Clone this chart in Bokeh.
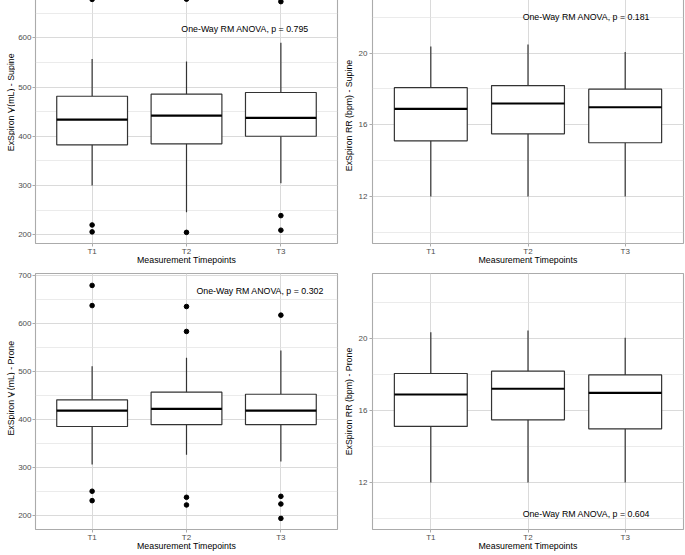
import numpy as np
from bokeh.plotting import figure
from bokeh.models import FixedTicker, Label, Range1d
from bokeh.layouts import column, row
from bokeh.embed import file_html
from bokeh.resources import INLINE

# ---------------- data ----------------
timepoints = ["T1", "T2", "T3"]

vt_supine_q1 = [382.7, 384.8, 400.2]
vt_supine_median = [434.0, 442.0, 437.6]
vt_supine_q3 = [481.4, 485.5, 489.0]
vt_supine_whisker_low = [300.1, 246.0, 304.8]
vt_supine_whisker_high = [557.0, 552.0, 590.0]
vt_supine_outlier_time = ["T1", "T1", "T1", "T2", "T2", "T3", "T3", "T3"]
vt_supine_outlier_value = [678.0, 220.0, 206.0, 678.5, 205.0, 673.5, 239.0, 209.4]

rr_supine_q1 = [15.11, 15.50, 15.00]
rr_supine_median = [16.89, 17.19, 16.98]
rr_supine_q3 = [18.07, 18.19, 17.99]
rr_supine_whisker_low = [12.0, 12.0, 12.0]
rr_supine_whisker_high = [20.37, 20.48, 20.06]
rr_supine_outlier_time = []
rr_supine_outlier_value = []

vt_prone_q1 = [385.7, 389.8, 389.8]
vt_prone_median = [419.0, 422.5, 419.0]
vt_prone_q3 = [441.3, 457.3, 453.0]
vt_prone_whisker_low = [306.4, 326.6, 312.7]
vt_prone_whisker_high = [511.5, 528.9, 544.2]
vt_prone_outlier_time = ["T1", "T1", "T1", "T1", "T2", "T2", "T2", "T2", "T3", "T3", "T3", "T3"]
vt_prone_outlier_value = [680.0, 638.0, 250.6, 231.0, 636.0, 584.0, 238.0, 222.0, 618.0, 240.0, 224.0, 194.0]

rr_prone_q1 = [15.12, 15.49, 14.99]
rr_prone_median = [16.90, 17.22, 16.99]
rr_prone_q3 = [18.07, 18.20, 17.99]
rr_prone_whisker_low = [12.0, 12.0, 12.0]
rr_prone_whisker_high = [20.37, 20.46, 20.06]
rr_prone_outlier_time = []
rr_prone_outlier_value = []

vt_supine_ticks = [200, 300, 400, 500, 600]
vt_prone_ticks = [200, 300, 400, 500, 600, 700]
rr_ticks = [12, 16, 20]

x_title = "Measurement Timepoints"
note_vt_supine = "One-Way RM ANOVA, p = 0.795"
note_rr_supine = "One-Way RM ANOVA, p = 0.181"
note_vt_prone = "One-Way RM ANOVA, p = 0.302"
note_rr_prone = "One-Way RM ANOVA, p = 0.604"

# ---------------- style ----------------
FONT = "Liberation Sans"
BORDER = "#ababab"
GRID = "#dadada"
MINOR = "#e3e3e3"
BOX_LINE = "#333333"

ARIAL_W = {"E": 667, "x": 500, "S": 667, "p": 556, "i": 222, "r": 333, "o": 556,
           "n": 556, " ": 278, "V": 667, "T": 611, "(": 333, "m": 833, "L": 556,
           ")": 333, "-": 333, "u": 556, "e": 556, "P": 667}


def text_w(s, size):
    return sum(ARIAL_W.get(c, 556) for c in s) / 1000.0 * size


FRAME_H = 256


def panel(q1, med, q3, lo, hi, out_t, out_v, yr, ticks, note, note_xy,
          width, bl, br, height, bt, bb, ylabel=None, y_standoff=2):
    xs = [i + 1 for i in range(len(timepoints))]
    half = 0.375
    p = figure(width=width, height=height, x_range=Range1d(0.4, 3.6),
               y_range=Range1d(*yr), output_backend="svg", toolbar_location=None,
               title=None, min_border_left=bl, min_border_right=br,
               min_border_top=bt, min_border_bottom=bb)
    p.background_fill_color = "white"
    p.border_fill_color = "white"
    p.outline_line_color = BORDER
    p.outline_line_width = 1.1

    # grid
    step = ticks[1] - ticks[0]
    minor = [t + step / 2 for t in [ticks[0] - step] + ticks]
    p.xgrid.ticker = FixedTicker(ticks=xs)
    p.xgrid.grid_line_color = GRID
    p.xgrid.grid_line_width = 1
    p.ygrid.ticker = FixedTicker(ticks=ticks, minor_ticks=minor)
    p.ygrid.grid_line_color = GRID
    p.ygrid.grid_line_width = 1
    p.ygrid.minor_grid_line_color = MINOR
    p.ygrid.minor_grid_line_width = 0.7

    # axes
    p.xaxis.ticker = FixedTicker(ticks=xs)
    p.xaxis.major_label_overrides = {x: t for x, t in zip(xs, timepoints)}
    p.yaxis.ticker = FixedTicker(ticks=ticks)
    for ax in (p.xaxis[0], p.yaxis[0]):
        ax.axis_line_color = None
        ax.major_tick_line_color = BORDER
        ax.major_tick_out = 3
        ax.major_tick_in = 0
        ax.minor_tick_out = 0
        ax.minor_tick_in = 0
        ax.major_label_text_font = FONT
        ax.major_label_text_font_size = "8px"
        ax.major_label_text_color = "#4d4d4d"
        ax.axis_label_text_font = FONT
        ax.axis_label_text_font_size = "8.8px"
        ax.axis_label_text_font_style = "normal"
        ax.axis_label_text_color = "black"
    p.xaxis.axis_label = x_title
    p.xaxis.major_label_standoff = 0
    p.xaxis.axis_label_standoff = -4
    p.yaxis.major_label_standoff = y_standoff
    p.yaxis.axis_label_standoff = 2
    if ylabel is not None:
        p.yaxis.axis_label = ylabel

    # whiskers
    p.segment(x0=xs, y0=q3, x1=xs, y1=hi, line_color=BOX_LINE, line_width=1.2)
    p.segment(x0=xs, y0=q1, x1=xs, y1=lo, line_color=BOX_LINE, line_width=1.2)
    # boxes
    p.vbar(x=xs, width=2 * half, bottom=q1, top=q3, fill_color="white",
           line_color=BOX_LINE, line_width=1.2)
    # medians
    p.segment(x0=[x - half for x in xs], x1=[x + half for x in xs], y0=med, y1=med,
              line_color="black", line_width=2.2)
    # outliers
    if out_v:
        ox = [timepoints.index(t) + 1 for t in out_t]
        p.scatter(x=ox, y=out_v, size=4.6, fill_color="black", line_color="black")

    # annotation
    p.add_layout(Label(x=note_xy[0], y=note_xy[1], text=note, text_align="center",
                       text_baseline="middle", text_font=FONT,
                       text_font_size="8.8px", text_color="black"))
    return p


def vt_title(suffix, width, height, bb):
    """Narrow strip carrying the rotated y title 'ExSpiron V_T (mL) - ...'."""
    t = figure(width=width, height=height, x_range=Range1d(0, width),
               y_range=Range1d(0, height), output_backend="svg", toolbar_location=None,
               title=None, x_axis_location=None, y_axis_location=None,
               min_border_left=0, min_border_right=0, min_border_top=0,
               min_border_bottom=0)
    t.outline_line_color = None
    t.background_fill_color = "white"
    t.border_fill_color = "white"
    t.grid.grid_line_color = None
    xc = 10.0
    yc = bb + FRAME_H / 2.0
    parts = [("ExSpiron V", 8.8, 0.0), ("T", 6.2, 2.4), (suffix, 8.8, 0.0)]
    total = text_w("ExSpiron V", 8.8) + text_w("T", 6.2) + text_w(" " + suffix, 8.8)
    ypos = yc - total / 2.0
    for txt, size, shift in parts:
        if txt == suffix:
            ypos += text_w(" ", 8.8)
        t.add_layout(Label(x=xc + shift, y=ypos, text=txt, angle=np.pi / 2,
                           text_align="left", text_baseline="middle", text_font=FONT,
                           text_font_size=f"{size}px", text_color="black"))
        ypos += text_w(txt, size)
    return t


TOP_BB = 28
BOT_BB = 26
TOP_H = 5 + FRAME_H + TOP_BB
BOT_H = 2 + FRAME_H + BOT_BB
STRIP_W = 15

t1 = vt_title("(mL) - Supine", STRIP_W, TOP_H, TOP_BB)
p1 = panel(vt_supine_q1, vt_supine_median, vt_supine_q3, vt_supine_whisker_low,
           vt_supine_whisker_high, vt_supine_outlier_time, vt_supine_outlier_value,
           (182.4, 702.2), vt_supine_ticks, note_vt_supine, (2.62, 617.0),
           340 - STRIP_W, 33 - STRIP_W, 3, TOP_H, 5, TOP_BB, y_standoff=1)
p2 = panel(rr_supine_q1, rr_supine_median, rr_supine_q3, rr_supine_whisker_low,
           rr_supine_whisker_high, rr_supine_outlier_time, rr_supine_outlier_value,
           (9.38, 23.66), rr_ticks, note_rr_supine, (2.6, 22.0),
           345, 32, 2, TOP_H, 5, TOP_BB, ylabel="ExSpiron RR (bpm) - Supine")
t3 = vt_title("(mL) - Prone", STRIP_W, BOT_H, BOT_BB)
p3 = panel(vt_prone_q1, vt_prone_median, vt_prone_q3, vt_prone_whisker_low,
           vt_prone_whisker_high, vt_prone_outlier_time, vt_prone_outlier_value,
           (170.8, 704.9), vt_prone_ticks, note_vt_prone, (2.78, 669.0),
           340 - STRIP_W, 33 - STRIP_W, 3, BOT_H, 2, BOT_BB, y_standoff=1)
p4 = panel(rr_prone_q1, rr_prone_median, rr_prone_q3, rr_prone_whisker_low,
           rr_prone_whisker_high, rr_prone_outlier_time, rr_prone_outlier_value,
           (9.38, 23.64), rr_ticks, note_rr_prone, (2.6, 10.22),
           345, 32, 2, BOT_H, 2, BOT_BB, ylabel="ExSpiron RR (bpm) - Prone")

layout = column(row(t1, p1, p2), row(t3, p3, p4), margin=(-18, 0, 0, 0))

open("out.html", "w").write(file_html(layout, INLINE))
